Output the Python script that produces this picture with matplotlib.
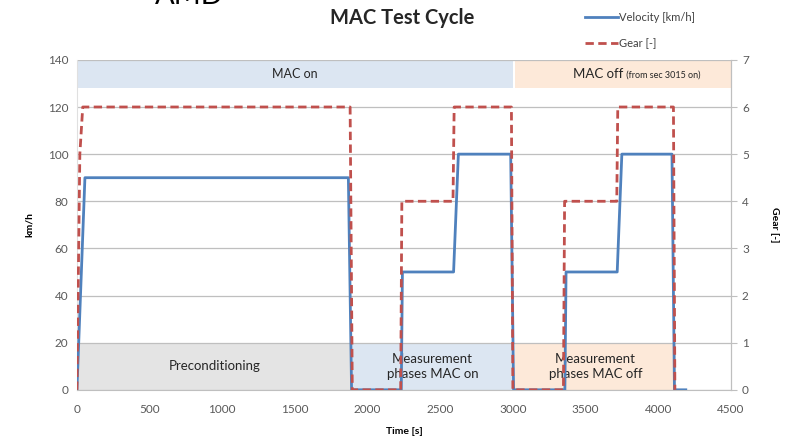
#!/usr/bin/env python3

import matplotlib.pyplot as plt
from matplotlib.lines import Line2D

plt.rcParams['font.family'] = ['Lato', 'DejaVu Sans']

# Velocity profile [km/h] over time [s]
time_v = [0, 55, 1868, 1890, 2232, 2240, 2592, 2625, 2985, 3005,
          3358, 3366, 3718, 3750, 4095, 4112, 4190]
velocity = [0, 90, 90, 0, 0, 50, 50, 100, 100, 0,
            0, 50, 50, 100, 100, 0, 0]

# Gear profile [-] over time [s]
time_g = [0, 20, 40, 1880, 1895, 2228, 2236, 2588, 2596, 2990, 3000,
          3348, 3356, 3715, 3722, 4105, 4115]
gear = [0, 5, 6, 6, 0, 0, 4, 4, 6, 6, 0,
        0, 4, 4, 6, 6, 0]

# Annotation bands: (start, end, colour)
top_bands = [(0, 3000, "#dce6f2"), (3015, 4500, "#fde9d9")]
bottom_bands = [(0, 1895, "#e4e4e4"), (1895, 3000, "#dce6f2"), (3015, 4125, "#fde9d9")]
bottom_labels = ["Preconditioning", "Measurement\nphases MAC on", "Measurement\nphases MAC off"]

blue = "#4f81bd"
red = "#c0504d"
tick_grey = "#595959"
grid_grey = "#bfbfbf"

fig = plt.figure(figsize=(7.85, 4.37), dpi=100)
ax = fig.add_axes([0.098, 0.108, 0.833, 0.755])
ax2 = ax.twinx()

# Bands behind everything
for start, end, colour in top_bands:
    ax.axvspan(start, end, ymin=128 / 140, ymax=1.0, color=colour, lw=0, zorder=0)
for start, end, colour in bottom_bands:
    ax.axvspan(start, end, ymin=0, ymax=20 / 140, color=colour, lw=0, zorder=0)

ax.text(1500, 134, "MAC on", ha="center", va="center", fontsize=9, color="#262626")
ax.text(3757, 134, "MAC off", ha="right", va="center", fontsize=9.5, color="#262626")
ax.text(3765, 133.6, " (from sec 3015 on)", ha="left", va="center", fontsize=6.5, color="#262626")
for (start, end, colour), label in zip(bottom_bands, bottom_labels):
    ax.text((start + end) / 2, 10, label, ha="center", va="center",
            fontsize=9.5, color="#262626", linespacing=1.3)

ax.plot(time_v, velocity, color=blue, lw=2, zorder=3)
ax2.plot(time_g, gear, color=red, lw=2, ls=(0, (3, 1.6)), zorder=3)

ax.set_xlim(0, 4500)
ax.set_ylim(0, 140)
ax2.set_ylim(0, 7)
ax.set_xticks(range(0, 4501, 500))
ax.set_yticks(range(0, 141, 20))
ax2.set_yticks(range(0, 8))

ax.grid(axis="y", color=grid_grey, lw=0.9, zorder=1)
ax.set_axisbelow(True)
for a in (ax, ax2):
    for side in ("top", "bottom", "left"):
        a.spines[side].set_visible(False)
    a.spines["right"].set_color(grid_grey)
ax.spines["left"].set_visible(True)
ax.spines["left"].set_color("#e0e0e0")
ax.spines["bottom"].set_visible(True)
ax.spines["bottom"].set_color(grid_grey)
ax2.spines["right"].set_visible(True)

ax.tick_params(axis="y", length=0, labelsize=8.5, labelcolor=tick_grey, pad=6)
ax.tick_params(axis="x", length=0, labelsize=8.5, labelcolor=tick_grey, pad=10)
ax2.tick_params(axis="y", length=4, color=grid_grey, labelsize=8.5, labelcolor=tick_grey, pad=4)

ax.set_xlabel("Time [s]", fontsize=7.5, fontweight="bold", labelpad=9)
ax.set_ylabel("km/h", fontsize=7.5, fontweight="bold", labelpad=10)
ax2.set_ylabel("Gear [-]", fontsize=7.5, fontweight="bold", rotation=-90, labelpad=22)

fig.text(0.512, 0.958, "MAC Test Cycle", ha="center", va="center",
         fontsize=14.5, fontweight="bold", color="#262626")
fig.text(0.197, 0.99, "AMD", ha="left", va="baseline", fontsize=21, color="black")

handles = [Line2D([], [], color=blue, lw=2), Line2D([], [], color=red, lw=2, ls=(0, (3, 1.6)))]
fig.legend(handles, ["Velocity [km/h]", "Gear [-]"], loc="upper left",
           bbox_to_anchor=(0.732, 0.995), frameon=False, fontsize=8,
           handlelength=3.0, handletextpad=0.1, labelspacing=1.3, labelcolor="#404040")

fig.savefig("out.png", dpi=100)
